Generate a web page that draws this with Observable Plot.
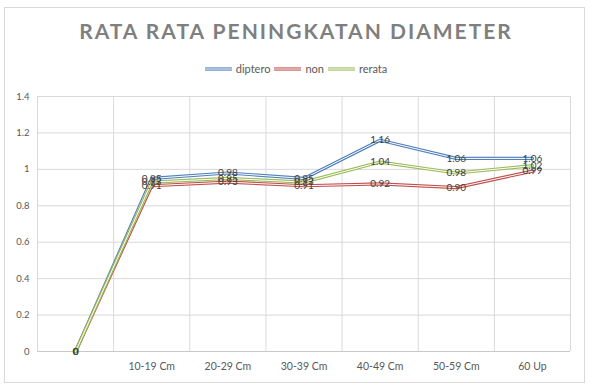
<!DOCTYPE html>
<html>
<head>
<meta charset="utf-8">
<script src="https://cdn.jsdelivr.net/npm/d3@7"></script>
<script src="https://cdn.jsdelivr.net/npm/@observablehq/plot@0.6"></script>
<style>
  body { margin: 0; background: #fff; }
  #wrap { position: relative; width: 592px; height: 388px; font-family: Lato, "Open Sans", sans-serif; overflow: hidden; background: #fff; }
  #frame { position: absolute; left: 4px; top: 7px; width: 581px; height: 376px; border: 1px solid #d9d9d9; box-sizing: border-box; }
  #title { position: absolute; left: 0; top: 18px; width: 592px; text-align: center; font-size: 21px; font-weight: bold; color: #7f7f7f; letter-spacing: 2px; white-space: nowrap; }
  #legend { position: absolute; left: 0; top: 62px; width: 592px; display: flex; justify-content: center; align-items: center; font-size: 11px; color: #595959; }
  #legend .item { display: flex; align-items: center; margin: 0 2px; }
  #legend svg { margin-right: 4px; }
  #chart { position: absolute; left: 0; top: 0; }
</style>
</head>
<body>
<div id="wrap">
  <div id="frame"></div>
  <div id="chart"></div>
  <div id="title"></div>
  <div id="legend"></div>
</div>
<script>
// ---- data ----
const titleText = "RATA RATA PENINGKATAN DIAMETER";
const categories = ["", "10-19 Cm", "20-29 Cm", "30-39 Cm", "40-49 Cm", "50-59 Cm", "60 Up"];
const seriesNames = ["diptero", "non", "rerata"];
const diptero = [0, 0.95, 0.98, 0.95, 1.16, 1.06, 1.06];
const non     = [0, 0.91, 0.93, 0.91, 0.92, 0.90, 0.99];
const rerata  = [0, 0.93, 0.95, 0.93, 1.04, 0.98, 1.02];
const seriesColors = ["#4F81BD", "#C0504D", "#9BBB59"];
const yTicks = [0, 0.2, 0.4, 0.6, 0.8, 1, 1.2, 1.4];

// ---- build table ----
const seriesValues = [diptero, non, rerata];
const rows = [];
seriesNames.forEach((s, si) => {
  seriesValues[si].forEach((v, i) => rows.push({series: s, i, category: categories[i], value: v}));
});
const n = categories.length;
const boundaries = d3.range(n + 1).map(i => i - 0.5);
const fmtLabel = v => v === 0 ? "0" : v.toFixed(2);
const fmtY = v => String(+v.toFixed(1));

document.getElementById("title").textContent = titleText;

// legend
const legend = document.getElementById("legend");
seriesNames.forEach((s, si) => {
  const item = document.createElement("div");
  item.className = "item";
  item.innerHTML = `<svg width="27" height="6"><line x1="0" x2="27" y1="3" y2="3" stroke="${seriesColors[si]}" stroke-width="3.2"/><line x1="0" x2="27" y1="3" y2="3" stroke="#fff" stroke-width="1"/></svg><span>${s}</span>`;
  legend.appendChild(item);
});

const lineMarks = [];
seriesNames.forEach((s, si) => {
  const data = rows.filter(d => d.series === s);
  lineMarks.push(Plot.line(data, {x: "i", y: "value", stroke: seriesColors[si], strokeWidth: 3.2}));
  lineMarks.push(Plot.line(data, {x: "i", y: "value", stroke: "#fff", strokeWidth: 1}));
});

const chart = Plot.plot({
  width: 592,
  height: 388,
  marginTop: 96,
  marginBottom: 37,
  marginLeft: 37,
  marginRight: 22,
  style: {fontFamily: "Lato, 'Open Sans', sans-serif", fontSize: "10px", color: "#595959", background: "transparent"},
  x: {type: "linear", domain: [-0.5, n - 0.5]},
  y: {domain: [0, 1.4]},
  marks: [
    Plot.gridY(yTicks, {stroke: "#d9d9d9", strokeOpacity: 1}),
    Plot.ruleX(boundaries, {stroke: "#d9d9d9", strokeOpacity: 1}),
    Plot.ruleY([0], {stroke: "#c8c8c8"}),
    ...lineMarks,
    Plot.text(rows, {x: "i", y: "value", text: d => fmtLabel(d.value), fill: "#404040", fontSize: 10}),
    Plot.axisY(yTicks, {tickSize: 0, tickPadding: 8, tickFormat: fmtY, fontSize: 9.5, label: null}),
    Plot.axisX(d3.range(n), {tickSize: 0, tickPadding: 11, tickFormat: i => categories[i], fontSize: 10.5, label: null})
  ]
});
document.getElementById("chart").appendChild(chart);
</script>
</body>
</html>
